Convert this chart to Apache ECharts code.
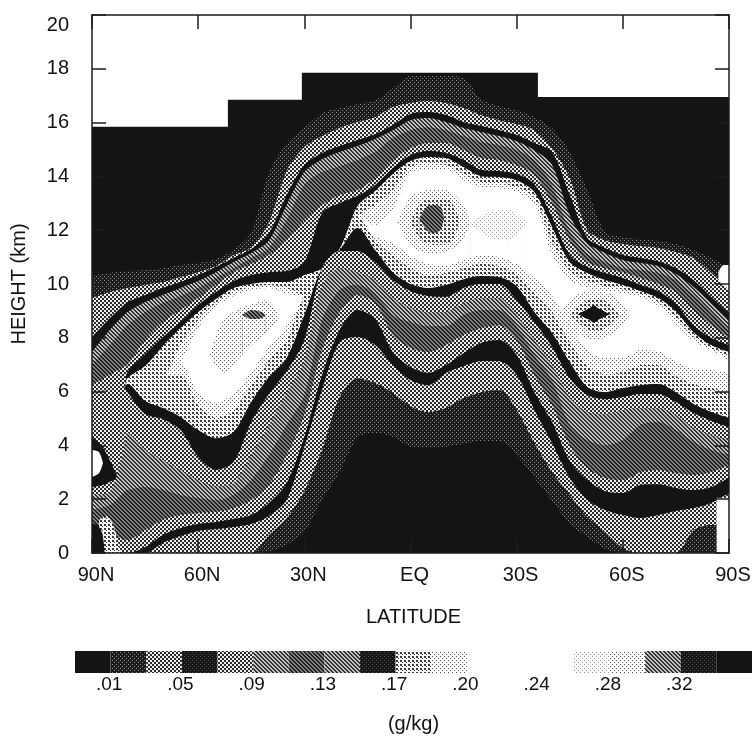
<!DOCTYPE html>
<html><head><meta charset="utf-8">
<script src="https://cdn.jsdelivr.net/npm/echarts@6/dist/echarts.min.js"></script>
<style>html,body{margin:0;padding:0;background:#fff}#c{width:752px;height:736px}</style>
</head><body><div id="c"></div>
<script>
const latitudes=[90,85,81,80,75,70,65,60,55,50,45,40,35,30,25,20,15,10,5,0,-5,-10,-15,-20,-25,-30,-35,-40,-45,-50,-55,-60,-65,-70,-75,-80,-85,-90];
const xTickLabels=['90S','60S','30S','EQ','30N','60N','90N'];
const colorbarCells=['K','D','S','D2','S','M1','M2','M1','D2','L1','L2','W','W','W','L3','L2','M1','D2','K'];
const colorbarLabels={1:'.01',3:'.05',5:'.09',7:'.13',9:'.17',11:'.20',13:'.24',15:'.28',17:'.32'};

const tropopauseLat=[90,51.6,51.6,30.7,30.7,-36,-36,-90];
const tropopauseH=[15.85,15.85,16.85,16.85,17.85,17.85,16.95,16.95];

const c01Top=[10.33,10.41,10.47,10.48,10.52,10.59,10.71,10.78,10.93,11.26,11.93,14.16,15.24,15.80,16.35,16.54,16.69,16.84,17.28,17.73,17.73,17.73,17.66,16.88,16.62,16.47,16.21,15.80,14.91,13.49,11.93,11.75,11.67,11.60,11.49,11.26,10.97,10.63];
const c03Top=[9.48,9.70,9.82,9.85,9.96,10.07,10.26,10.44,10.67,11.08,11.37,12.30,14.20,15.09,15.50,15.80,16.02,16.21,16.58,16.73,16.80,16.73,16.54,16.28,16.09,15.95,15.72,15.05,13.94,12.01,11.63,11.49,11.41,11.34,11.19,10.97,10.41,9.78];
const c05Top=[8.03,8.73,9.22,9.33,9.59,9.85,10.07,10.33,10.63,10.97,11.30,11.89,13.31,14.42,14.87,15.13,15.35,15.57,15.91,16.32,16.39,16.28,16.02,15.87,15.72,15.54,15.24,14.91,13.31,11.71,11.34,11.08,10.97,10.85,10.59,10.15,9.52,8.92];
const c07Top=[7.47,8.29,8.84,8.96,9.33,9.59,9.85,10.11,10.44,10.82,11.15,11.63,12.94,14.16,14.64,14.91,15.13,15.39,15.72,16.09,16.17,16.02,15.80,15.65,15.50,15.31,14.98,14.42,12.56,11.52,11.15,10.89,10.78,10.67,10.37,9.89,9.29,8.66];
const c11Top=[6.99,7.73,8.33,8.47,8.96,9.29,9.55,9.85,10.22,10.59,10.97,11.34,12.38,13.68,14.16,14.38,14.61,14.91,15.43,15.72,15.83,15.72,15.50,15.28,15.17,14.98,14.61,13.68,11.93,11.11,10.82,10.59,10.52,10.41,10.15,9.59,8.96,8.29];
const c13Top=[6.24,6.62,6.92,6.99,7.92,8.59,9.03,9.48,9.96,10.44,10.74,11.08,11.63,12.38,12.94,13.31,13.49,13.94,14.61,15.05,15.24,15.24,14.98,14.68,14.61,14.42,14.05,13.01,11.63,10.82,10.59,10.44,10.22,10.00,9.70,9.03,8.47,7.99];
const c15Top=[5.87,6.10,6.15,6.73,7.40,8.03,8.59,9.22,9.70,10.11,10.33,10.44,10.48,10.82,12.64,13.01,13.27,13.68,14.31,14.79,14.94,14.87,14.61,14.24,14.20,14.09,13.72,12.49,11.08,10.63,10.41,10.22,9.96,9.74,9.26,8.47,7.99,7.73];
const c17Top=[5.87,6.10,6.15,6.50,6.95,7.69,8.36,8.96,9.44,9.85,10.00,10.07,10.07,10.33,10.59,11.30,12.90,13.46,14.09,14.57,14.72,14.68,14.35,14.01,13.98,13.86,13.42,12.12,10.82,10.41,10.15,9.96,9.74,9.48,8.99,8.21,7.73,7.47];
const c19Top=[5.87,6.10,6.15,6.36,6.62,6.62,7.73,8.66,9.29,9.70,9.89,9.96,9.85,9.59,10.59,11.30,12.49,12.94,13.49,14.35,14.46,14.42,14.09,13.79,13.75,13.60,13.20,11.56,10.48,10.11,9.92,9.81,9.63,9.33,8.73,8.03,7.62,7.32];
const c21Top=[5.87,6.10,6.15,6.36,6.62,6.62,7.10,8.36,9.14,9.55,9.78,9.85,9.63,9.59,10.59,11.30,12.49,12.19,12.75,14.16,14.24,14.24,13.86,13.60,13.57,13.42,12.97,11.08,10.15,9.85,9.74,9.66,9.52,9.18,8.51,7.88,7.55,7.17];
const c21Bottom=[5.87,6.10,6.15,6.36,6.62,6.62,7.10,5.95,5.58,5.95,6.73,7.66,8.44,9.59,10.59,11.30,12.49,11.78,11.52,11.04,10.74,10.70,10.89,11.08,11.00,10.74,10.22,9.55,8.44,7.55,7.25,7.25,7.55,7.51,7.10,6.84,6.80,6.69];
const c19Bottom=[5.87,6.10,6.15,6.36,6.62,6.62,6.62,5.50,5.02,5.32,6.24,7.17,7.92,9.59,10.59,11.30,12.49,11.63,11.08,10.59,10.33,10.41,10.59,10.74,10.67,10.37,9.66,8.96,7.84,6.95,6.65,6.73,6.99,6.99,6.58,6.28,6.13,5.98];
const c17Bottom=[5.87,6.10,6.15,6.28,5.65,5.39,5.06,4.57,4.27,4.50,5.61,6.54,7.25,8.85,10.59,11.26,12.08,11.26,10.44,10.00,9.85,9.96,10.18,10.30,10.26,9.92,8.96,8.18,7.10,6.17,5.98,6.13,6.24,6.28,5.98,5.54,5.24,5.02];
const c15Bottom=[5.87,6.10,6.15,5.98,5.17,4.98,4.57,3.57,3.09,3.38,4.87,5.91,6.76,7.92,10.59,11.23,11.23,10.82,10.15,9.74,9.55,9.52,9.85,10.00,10.00,9.40,8.59,7.66,6.50,5.87,5.72,5.80,5.91,5.91,5.61,5.20,4.91,4.68];
const c13Bottom=[2.16,2.27,3.90,4.46,3.83,3.46,3.09,2.71,2.49,2.60,3.64,4.76,5.98,7.17,9.96,10.59,10.44,10.15,9.48,9.11,8.96,8.96,9.29,9.48,9.48,8.85,7.92,6.99,5.80,5.24,5.17,5.32,5.39,5.39,5.13,4.65,4.39,4.20];
const c11Bottom=[1.60,1.78,2.25,2.34,2.45,2.34,2.16,2.04,1.97,2.16,2.71,3.64,4.76,5.87,8.66,9.78,9.96,9.66,8.85,8.59,8.44,8.44,8.85,9.03,9.03,8.44,7.36,6.43,4.76,4.20,4.01,4.20,4.76,4.87,4.57,4.13,3.83,3.64];
const c07Bottom=[0.48,0.67,0.50,0.48,0.85,1.23,1.41,1.49,1.52,1.67,1.97,2.53,3.64,5.13,7.55,8.96,9.59,9.29,8.10,7.62,7.47,7.73,8.10,8.36,8.47,7.92,6.62,5.50,4.01,3.16,2.79,2.71,3.01,3.09,2.97,2.90,3.01,3.27];
const c05Bottom=[0,0,0,0,0.22,0.67,0.93,1.08,1.15,1.26,1.41,1.86,2.60,4.31,6.62,8.29,9.03,8.70,7.47,6.91,6.69,6.99,7.43,7.81,7.92,7.36,5.98,4.87,3.42,2.71,2.30,2.23,2.53,2.56,2.42,2.34,2.45,2.82];
const c03Bottom=[0,0,0,0,0,0.37,0.63,0.82,0.89,0.97,1.08,1.38,1.97,3.94,6.06,7.84,8.03,7.73,6.99,6.43,6.24,6.69,6.95,7.14,7.14,6.62,5.32,4.09,2.79,1.97,1.60,1.41,1.30,1.41,1.56,1.67,1.86,2.23];
const c01Bottom=[0,0,0,0,0,0,0,0,0,0,0,0.67,1.30,2.30,3.83,5.80,6.50,6.32,5.95,5.46,5.24,5.39,5.76,5.98,6.06,5.32,4.09,3.01,2.16,1.34,0.78,0.19,0,0,0,0.85,1.04,1.04];
const surfaceTop=[0,0,0,0,0,0,0,0,0,0,0,0.04,0.30,0.78,1.97,3.01,4.27,4.46,4.31,3.94,3.90,3.94,4.05,4.16,4.16,3.61,2.79,1.93,1.08,0.59,0.15,0,0,0,0,0,0,0];

const eqTailLat=[-16.8,-22.4,-28,-32.9], eqTailTop=[12.27,12.68,12.75,12.27], eqTailBottom=[12.27,11.71,11.63,12.27];
const eqOuterLat=[3.6,0,-5,-10,-15,-17], eqOuterTop=[12.30,13.23,13.49,13.49,12.94,12.30], eqOuterBottom=[12.30,11.45,11.15,11.19,11.71,12.30];
const eqInnerLat=[0,-3,-7,-11,-14], eqInnerTop=[12.30,13.01,13.20,13.12,12.30], eqInnerBottom=[12.30,11.63,11.45,11.52,12.30];
const eqCoreLat=[-2.5,-4.5,-6.5,-8.5,-9.5], eqCoreTop=[12.45,12.86,12.94,12.86,12.45], eqCoreBottom=[12.45,12.01,11.89,12.01,12.45];
const saOuterLat=[-42.2,-46.4,-52.1,-57.7,-62], saOuterTop=[8.85,9.55,9.78,9.55,8.85], saOuterBottom=[8.85,8.21,7.92,8.21,8.85];
const saInnerLat=[-45,-49,-52.1,-55.5,-59.1], saInnerTop=[8.85,9.33,9.48,9.33,8.85], saInnerBottom=[8.85,8.40,8.21,8.40,8.85];
const saCoreLat=[-47.3,-50.7,-51.8,-52.9,-56.3], saCoreTop=[8.88,9.11,9.22,9.11,8.88], saCoreBottom=[8.88,8.66,8.55,8.66,8.88];
const naOuterLat=[56.7,53,49,44,40.6,36.9], naOuterTop=[7.36,8.66,9.03,9.29,9.40,8.77], naOuterBottom=[7.36,6.69,7.17,7.84,8.18,8.77];
const naCoreLat=[47.5,45,42,41], naCoreTop=[8.85,9.03,8.96,8.85], naCoreBottom=[8.85,8.70,8.73,8.85];
const poleOuterLat=[90,87,85,82.7], poleOuterTop=[4.31,3.94,3.46,2.82], poleOuterBottom=[2.45,2.53,2.64,2.82];
const poleInnerLat=[90,88,86.9], poleInnerTop=[3.83,3.75,3.35], poleInnerBottom=[2.82,2.97,3.35];
const cornerLightLat=[88,86,84,82], cornerLightTop=[1.23,1.38,1.04,0];
const cornerDarkLat=[90,88,87,86.4], cornerDarkTop=[1.12,0.97,0.67,0];
const edgeWhiteLat=[-86.5,-90], edgeWhiteTop=[2.05,2.05];
const patchWhiteLat=[-87,-88.5,-90], patchWhiteTop=[10.44,10.71,10.71];

function tile(size,fg,bg,rects){
  const cv=document.createElement('canvas');cv.width=size;cv.height=size;
  const g=cv.getContext('2d');g.fillStyle=bg;g.fillRect(0,0,size,size);g.fillStyle=fg;
  rects.forEach(r=>g.fillRect(r[0],r[1],r[2],r[3]));
  return {image:cv,repeat:'repeat'};
}
const diag=[[0,0,1,1],[1,1,1,1],[2,2,1,1],[3,3,1,1],[1,0,1,1],[2,1,1,1],[3,2,1,1],[0,3,1,1]];
const fills={
  K:'#141414',
  W:'#ffffff',
  D:tile(4,'#8a8a8a','#1c1c1c',[[0,0,1,1],[2,2,1,1]]),
  D2:tile(4,'#555','#161616',[[0,0,1,1],[2,2,1,1]]),
  S:tile(4,'#2a2a2a','#ececec',[[0,0,2,2],[2,2,2,2]]),
  M1:tile(4,'#303030','#c4c4c4',diag),
  M2:tile(4,'#222222','#808080',diag),
  L1:tile(4,'#3a3a3a','#f7f7f7',[[0,0,2,2],[2,2,1,1]]),
  L2:tile(4,'#555','#ffffff',[[0,0,1,1],[2,2,1,1]]),
  L3:tile(4,'#999','#ffffff',[[0,0,1,1],[2,2,1,1]])
};

const series=[];
function paint(lats,vals,fill,smooth){
  series.push({type:'line',data:lats.map((l,i)=>[l,vals[i]]),showSymbol:false,silent:true,smooth:smooth===false?false:0.3,
    lineStyle:{width:0,color:'transparent'},itemStyle:{color:'#000'},areaStyle:{color:fills[fill],opacity:1,origin:'start'},z:2+series.length*0.001,animation:false});
}
paint(tropopauseLat,tropopauseH,'K',false);
paint(latitudes,c01Top,'D');
paint(patchWhiteLat,patchWhiteTop,'W');
paint(latitudes,c03Top,'S');
paint(latitudes,c05Top,'K');
paint(latitudes,c07Top,'M1');
paint(latitudes,c11Top,'M2');
paint(latitudes,c13Top,'S');
paint(latitudes,c15Top,'K');
paint(latitudes,c17Top,'L1');
paint(latitudes,c19Top,'L2');
paint(latitudes,c21Top,'W');
paint(eqTailLat,eqTailTop,'L3');paint(eqTailLat,eqTailBottom,'W');
paint(eqOuterLat,eqOuterTop,'L2');paint(eqInnerLat,eqInnerTop,'L1');paint(eqCoreLat,eqCoreTop,'M2');
paint(eqCoreLat,eqCoreBottom,'L1');paint(eqInnerLat,eqInnerBottom,'L2');paint(eqOuterLat,eqOuterBottom,'W');
paint(saOuterLat,saOuterTop,'L2');paint(saInnerLat,saInnerTop,'L1');paint(saCoreLat,saCoreTop,'K');
paint(saCoreLat,saCoreBottom,'L1');paint(saInnerLat,saInnerBottom,'L2');paint(saOuterLat,saOuterBottom,'W');
paint(naOuterLat,naOuterTop,'L2');paint(naCoreLat,naCoreTop,'M2');paint(naCoreLat,naCoreBottom,'L2');paint(naOuterLat,naOuterBottom,'W');
paint(latitudes,c21Bottom,'L2');
paint(latitudes,c19Bottom,'L1');
paint(latitudes,c17Bottom,'K');
paint(latitudes,c15Bottom,'S');
paint(poleOuterLat,poleOuterTop,'K');paint(poleInnerLat,poleInnerTop,'W');paint(poleInnerLat,poleInnerBottom,'K');paint(poleOuterLat,poleOuterBottom,'S');
paint(latitudes,c13Bottom,'M1');
paint(latitudes,c11Bottom,'M2');
paint(latitudes,c07Bottom,'S');
paint(latitudes,c05Bottom,'K');
paint(latitudes,c03Bottom,'S');
paint(latitudes,c01Bottom,'D');
paint(latitudes,surfaceTop,'K');
paint(cornerLightLat,cornerLightTop,'L1');
paint(cornerDarkLat,cornerDarkTop,'K');
paint(edgeWhiteLat,edgeWhiteTop,'W',false);

colorbarCells.forEach(f=>{
  series.push({type:'bar',xAxisIndex:2,yAxisIndex:2,stack:'bar',data:[1],barWidth:'100%',silent:true,itemStyle:{color:fills[f]},animation:false});
});

const font='"Liberation Sans",Arial,sans-serif';
const line={show:true,onZero:false,lineStyle:{color:'#1c1c1c',width:1.5}};
const tickIn={show:true,inside:true,length:14,lineStyle:{color:'#1c1c1c',width:1.5}};
const chart=echarts.init(document.getElementById('c'),null,{renderer:'canvas'});
chart.setOption({
  animation:false,backgroundColor:'#fff',
  grid:[{left:92,top:15,width:637,height:538,containLabel:false,outerBoundsMode:'none'},{left:75,top:651,width:677,height:22,outerBoundsMode:'none'}],
  xAxis:[
    {type:'value',gridIndex:0,min:-90,max:90,interval:30,inverse:true,position:'bottom',z:10,axisLine:line,axisTick:tickIn,splitLine:{show:false},
     axisLabel:{color:'#111',fontFamily:font,fontSize:20,margin:12,padding:[0,0,0,8],showMinLabel:true,showMaxLabel:true,formatter:v=>xTickLabels[Math.round((v+90)/30)]},
     name:'LATITUDE',nameLocation:'middle',nameGap:54,nameTextStyle:{color:'#111',fontFamily:font,fontSize:20,padding:[0,0,0,6]}},
    {type:'value',gridIndex:0,min:-90,max:90,interval:30,inverse:true,position:'top',z:10,axisLine:line,axisTick:tickIn,splitLine:{show:false},axisLabel:{show:false}},
    {type:'value',gridIndex:1,min:0,max:19,interval:1,position:'bottom',axisLine:{show:false},axisTick:{show:false},splitLine:{show:false},
     axisLabel:{color:'#111',fontFamily:font,fontSize:19,margin:2,padding:[0,3,0,0],hideOverlap:false,formatter:v=>colorbarLabels[v]||''},
     name:'(g/kg)',nameLocation:'middle',nameGap:41,nameTextStyle:{color:'#111',fontFamily:font,fontSize:20}}
  ],
  yAxis:[
    {type:'value',gridIndex:0,min:0,max:20,interval:2,position:'left',z:10,axisLine:line,axisTick:tickIn,splitLine:{show:false},
     axisLabel:{color:'#111',fontFamily:font,fontSize:20,margin:23,verticalAlignMaxLabel:'top'},
     name:'HEIGHT (km)',nameLocation:'middle',nameGap:63,nameTextStyle:{color:'#111',fontFamily:font,fontSize:20}},
    {type:'value',gridIndex:0,min:0,max:20,interval:2,position:'right',z:10,axisLine:line,axisTick:tickIn,splitLine:{show:false},axisLabel:{show:false}},
    {type:'category',gridIndex:1,data:['cells'],show:false}
  ],
  series:series
});
</script></body></html>
